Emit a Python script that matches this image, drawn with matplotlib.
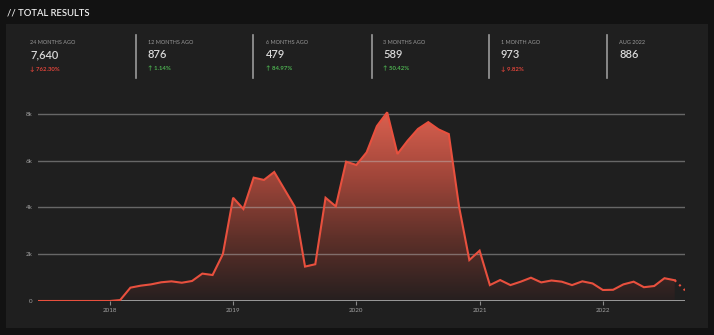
import matplotlib.pyplot as plt
import numpy as np
from matplotlib.colors import LinearSegmentedColormap

plt.rcParams['font.family'] = ['Lato', 'DejaVu Sans']

# monthly totals, Jun 2017 .. Aug 2022 (complete months)
results = [0, 0, 0, 0, 0, 0, 0,
           0, 40, 570, 655, 710, 800, 840, 780, 855, 1170, 1110, 2000,
           4410, 3930, 5270, 5170, 5510, 4770, 4030, 1470, 1570, 4410, 4040, 5950,
           5810, 6350, 7470, 8060, 6280, 6850, 7350, 7640, 7330, 7130, 4030, 1750,
           2150, 680, 895, 680, 825, 995, 795, 876, 825, 680, 840, 750,
           470, 479, 710, 825, 589, 640, 973, 886]
# Sep 2022 so far (partial month)
partial = 455

year_ticks = [7, 19, 31, 43, 55]
year_labels = ['2018', '2019', '2020', '2021', '2022']
y_ticks = [0, 2000, 4000, 6000, 8000]
y_labels = ['0', '2k', '4k', '6k', '8k']

stat_titles = ['24 MONTHS AGO', '12 MONTHS AGO', '6 MONTHS AGO', '3 MONTHS AGO', '1 MONTH AGO', 'AUG 2022']
stat_values = ['7,640', '876', '479', '589', '973', '886']
stat_changes = ['762.30%', '1.14%', '84.97%', '50.42%', '9.82%', None]
stat_up = [False, True, True, True, False, None]

W, H = 714, 335
fig = plt.figure(figsize=(W / 100, H / 100), dpi=100, facecolor='#121212')


def fx(x):
    return x / W


def fy(y):
    return 1 - y / H


# card background
panel = plt.Rectangle((fx(6), fy(328)), fx(702), (328 - 24) / H, transform=fig.transFigure,
                      facecolor='#1f1f1f', edgecolor='none', zorder=-10)
fig.patches.append(panel)

fig.text(fx(7), fy(13), '// TOTAL RESULTS', color='#f0f0f0', fontsize=6.8, va='center', ha='left',
         fontweight='semibold')

# stat blocks
block_x = [30, 148, 266, 383, 501, 619]
sep_x = [136, 253, 372, 489, 607]
for sx in sep_x:
    fig.add_artist(plt.Line2D([fx(sx), fx(sx)], [fy(35), fy(78)], transform=fig.transFigure,
                              color='#9a9a9a', lw=1.2))
for bx, t, v, c, up in zip(block_x, stat_titles, stat_values, stat_changes, stat_up):
    fig.text(fx(bx), fy(43), t, color='#9a9a9a', fontsize=4, va='center')
    fig.text(fx(bx), fy(54.5), v, color='#d8d8d8', fontsize=8, va='center', fontweight='semibold')
    if c is not None:
        col = '#4caf50' if up else '#e0443a'
        arrow = '\u2191' if up else '\u2193'
        fig.text(fx(bx), fy(69), arrow + ' ' + c, color=col, fontsize=4.3, va='center',
                 fontweight='bold')

# chart area
ymax = 8400
px_per_k = (301 - 113.7) / 8
top = 301 - ymax / 1000 * px_per_k
ax = fig.add_axes([fx(38), fy(301), fx(685 - 38), (301 - top) / H])
ax.set_facecolor('none')

x = np.arange(len(results))
ax.set_xlim(0, len(results))
ax.set_ylim(0, ymax)

# area under the line, shaded from dark at zero to red at the top
cmap = LinearSegmentedColormap.from_list('fade', ['#261f1f', '#5e3029', '#a1463a', '#d9604f'])
grad = np.linspace(0, 1, 256).reshape(-1, 1)
img = ax.imshow(grad, extent=[0, len(results), 0, 8000], origin='lower', aspect='auto',
                cmap=cmap, zorder=1)
fill = ax.fill_between(x, results, 0, facecolor='none', edgecolor='none')
img.set_clip_path(fill.get_paths()[0], transform=ax.transData)

for yt in y_ticks[1:]:
    ax.axhline(yt, color='#c0c0c0', alpha=0.45, lw=1.0, zorder=2)
ax.axhline(0, color='#9a9a9a', lw=1.4, zorder=2)

ax.plot(x, results, color='#e8503e', lw=1.5, zorder=3, solid_joinstyle='miter')
ax.plot([x[-1], x[-1] + 1], [results[-1], partial], color='#e8503e', lw=1.5,
        linestyle=(0, (1, 2)), zorder=3)

for s in ax.spines.values():
    s.set_visible(False)
ax.set_yticks(y_ticks)
ax.set_yticklabels(y_labels)
ax.set_xticks(year_ticks)
ax.set_xticklabels(year_labels)
ax.tick_params(axis='y', length=0, colors='#a0a0a0', labelsize=4.5, pad=4)
ax.tick_params(axis='x', length=3, width=0.8, color='#8a8a8a', colors='#a0a0a0',
               labelsize=4.5, pad=2)

fig.savefig('out.png', dpi=100, facecolor=fig.get_facecolor())
